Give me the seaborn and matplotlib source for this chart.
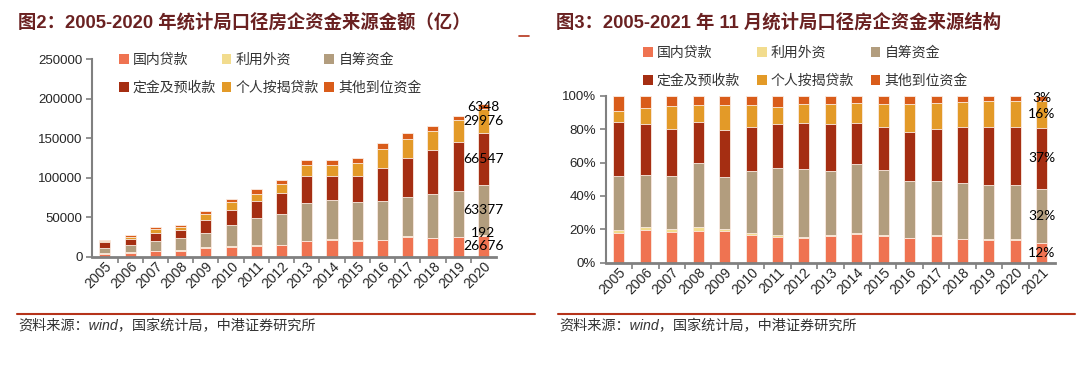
import matplotlib
matplotlib.use('Agg')
import matplotlib.pyplot as plt
from matplotlib.patches import Patch
from matplotlib.ticker import PercentFormatter, FixedLocator
import numpy as np
import pandas as pd
import seaborn as sns

# series names and colours
series = ['国内贷款', '利用外资', '自筹资金', '定金及预收款', '个人按揭贷款', '其他到位资金']
colors = ['#EF7351', '#F2DC8E', '#B29D7E', '#A52E12', '#E39A28', '#D95C1A']

# fig 2: amounts (亿), 2005-2020
years_a = [str(y) for y in range(2005, 2021)]
loan_a = [3809, 5319, 6896, 7528, 10982, 12255, 13196, 14481, 19540, 21226, 20283, 21344, 25309, 23567, 24648, 26676]
foreign_a = [342, 434, 675, 951, 694, 875, 1200, 579, 489, 732, 250, 288, 312, 332, 179, 192]
self_a = [6976, 8575, 11843, 15214, 18149, 26843, 34276, 39001, 47383, 50016, 48829, 48744, 50618, 55432, 58405, 63377]
deposit_a = [6933, 8195, 10569, 9667, 16068, 19111, 22451, 26644, 34194, 30010, 32553, 42110, 48743, 55764, 61441, 66547]
mortgage_a = [1369, 2659, 5247, 3962, 8670, 9774, 8740, 10812, 14410, 14395, 16777, 24516, 24372, 24563, 28220, 29976]
other_a = [1969, 1954, 2249, 2298, 3237, 4085, 5827, 5020, 6106, 5612, 6511, 7211, 6874, 6307, 5716, 6348]

# fig 3: structure (%), 2005-2021/11
years_b = [str(y) for y in range(2005, 2022)]
loan_b = [17.8, 19.6, 18.4, 19.0, 19.0, 16.8, 15.4, 15.0, 16.0, 17.4, 16.2, 14.8, 16.2, 14.2, 13.8, 13.8, 11.8]
foreign_b = [1.6, 1.6, 1.8, 2.4, 1.2, 1.2, 1.4, 0.6, 0.4, 0.6, 0.2, 0.2, 0.2, 0.2, 0.1, 0.1, 0.1]
self_b = [32.6, 31.6, 31.6, 38.4, 31.4, 36.8, 40.0, 40.4, 38.8, 41.0, 39.0, 33.8, 32.4, 33.4, 32.7, 32.8, 32.1]
deposit_b = [32.4, 30.2, 28.2, 24.4, 27.8, 26.2, 26.2, 27.6, 28.0, 24.6, 26.0, 29.2, 31.2, 33.6, 34.4, 34.5, 36.9]
mortgage_b = [6.4, 9.8, 14.0, 10.0, 15.0, 13.4, 10.2, 11.2, 11.8, 11.8, 13.4, 17.0, 15.6, 14.8, 15.8, 15.5, 16.0]
other_b = [9.2, 7.2, 6.0, 5.8, 5.6, 5.6, 6.8, 5.2, 5.0, 4.6, 5.2, 5.0, 4.4, 3.8, 3.2, 3.3, 3.1]
labels_b = ['12%', '', '32%', '37%', '16%', '3%']

sns.set_style('white')
plt.rcParams['font.family'] = ['Liberation Sans', 'Noto Sans CJK SC']
plt.rcParams['axes.unicode_minus'] = False

fig = plt.figure(figsize=(10.84, 3.69), dpi=100)
W, H = 1084, 369


def box(x0, y0, x1, y1):
    return [x0 / W, 1 - y1 / H, (x1 - x0) / W, (y1 - y0) / H]


def stacked(ax, years, cols, width):
    df = pd.DataFrame(dict(zip(series, cols)), index=years)
    cum = df.cumsum(axis=1)
    for i in range(len(series) - 1, -1, -1):
        sns.barplot(x=years, y=cum[series[i]].values, color=colors[i], width=width,
                    saturation=1, edgecolor='#FBEDE4', linewidth=0.6, ax=ax)
    return df, cum


def style(ax, n):
    sns.despine(ax=ax)
    for s in ['left', 'bottom']:
        ax.spines[s].set_color('#808080')
    ax.spines['left'].set_linewidth(1.5)
    ax.spines['bottom'].set_linewidth(2)
    ax.set_xlim(-0.5, n - 0.5)
    ax.tick_params(axis='y', left=True, length=4, width=1.2, color='#808080', labelsize=9.5, pad=3)
    ax.tick_params(axis='x', which='major', length=0, labelsize=10, pad=2)
    ax.xaxis.set_minor_locator(FixedLocator(np.arange(0.5, n - 0.5, 1)))
    ax.tick_params(axis='x', which='minor', bottom=True, length=4, width=1.2, color='#808080')
    for lab in ax.get_xticklabels():
        lab.set_rotation(45)
        lab.set_ha('right')
        lab.set_rotation_mode('anchor')
    ax.set_xlabel('')
    ax.set_ylabel('')


def legend(ax, bbox, colspace):
    handles = [Patch(facecolor=c, edgecolor='none') for c in colors]
    order = [0, 3, 1, 4, 2, 5]
    ax.legend([handles[i] for i in order], [series[i] for i in order], ncol=3, frameon=False,
              loc='upper left', bbox_to_anchor=bbox, bbox_transform=fig.transFigure,
              handlelength=0.7, handleheight=0.7, handletextpad=0.3,
              columnspacing=colspace, labelspacing=1.0, labelcolor='#333333',
              borderaxespad=0, borderpad=0,
              prop={'family': 'Noto Sans CJK SC', 'size': 10})


# left chart
ax1 = fig.add_axes(box(92.3, 59.3, 496, 256.7))
df_a, cum_a = stacked(ax1, years_a, [loan_a, foreign_a, self_a, deposit_a, mortgage_a, other_a], 0.44)
ax1.set_ylim(0, 250000)
ax1.set_yticks(range(0, 250001, 50000))
style(ax1, len(years_a))
legend(ax1, (119 / W, 1 - 53 / H), 0.4)
last = len(years_a) - 1
for i, s in enumerate(series):
    v = df_a[s].iloc[last]
    c = cum_a[s].iloc[last] - v / 2
    if s == '利用外资':
        c += 3500
    ax1.text(last, c, f'{v}', ha='center', va='center', fontsize=10, family='Lato', color='black')

# right chart
ax2 = fig.add_axes(box(605.7, 95.7, 1055, 262.7))
df_b, cum_b = stacked(ax2, years_b, [loan_b, foreign_b, self_b, deposit_b, mortgage_b, other_b], 0.42)
ax2.set_ylim(0, 100)
ax2.set_yticks(range(0, 101, 20))
ax2.yaxis.set_major_formatter(PercentFormatter(100, decimals=0))
style(ax2, len(years_b))
legend(ax2, (643 / W, 1 - 46 / H), 1.2)
last = len(years_b) - 1
for i, s in enumerate(series):
    if not labels_b[i]:
        continue
    v = df_b[s].iloc[last]
    c = cum_b[s].iloc[last] - v / 2
    ax2.text(last, c, labels_b[i], ha='center', va='center', fontsize=10, family='Lato', color='black')

# titles
title_c = '#6A2121'
fig.text(18 / W, 1 - 22 / H, '图2：2005-2020 年统计局口径房企资金来源金额（亿）', fontsize=13.2,
         fontweight='bold', color=title_c, va='center', ha='left')
fig.text(556 / W, 1 - 22 / H, '图3：2005-2021 年 11 月统计局口径房企资金来源结构', fontsize=13.2,
         fontweight='bold', color=title_c, va='center', ha='left')
fig.add_artist(plt.Line2D([519 / W, 529 / W], [1 - 36 / H, 1 - 36 / H], color='#B5331A', lw=1.2))

# footer lines and source
for x0, x1 in [(17, 535), (558, 1075)]:
    fig.add_artist(plt.Line2D([x0 / W, x1 / W], [1 - 314 / H, 1 - 314 / H], color='#B5331A', lw=1.5))
    fig.text((x0 + 1) / W, 1 - 326 / H, '资料来源：wind，国家统计局，中港证券研究所', fontsize=10.2,
             style='italic', color='#333333', va='center', ha='left')

fig.savefig('out.png', dpi=100)
